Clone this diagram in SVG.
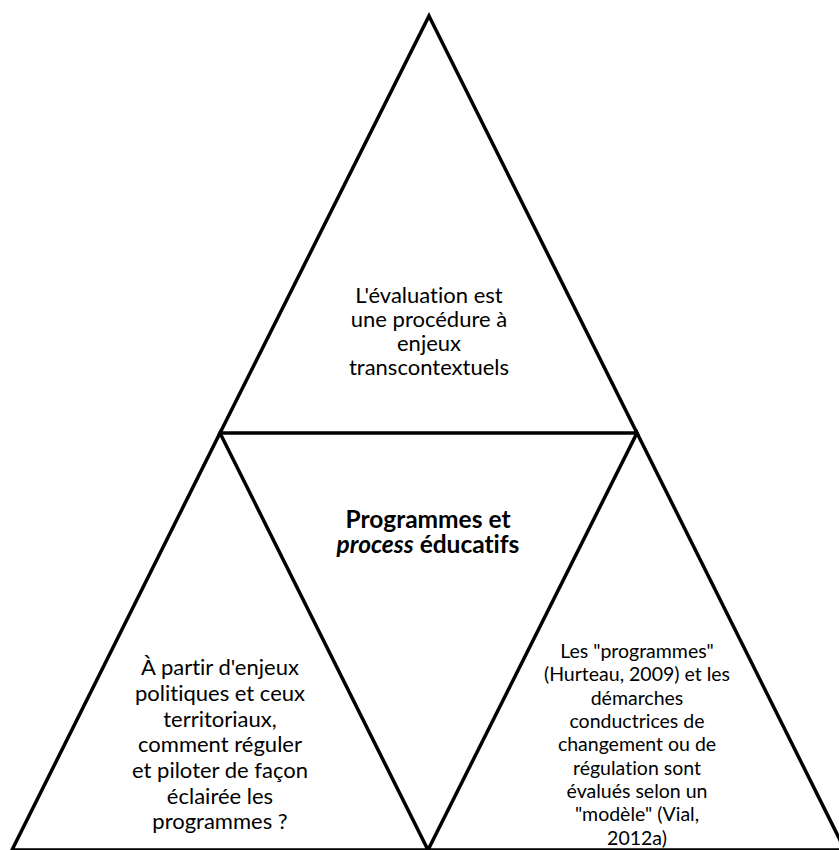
<svg xmlns="http://www.w3.org/2000/svg" width="839" height="850" viewBox="0 0 839 850">
<style>
.tri{fill:none;stroke:#000;stroke-width:3.5;stroke-linejoin:miter}
.t{font-family:Lato,"Liberation Sans",sans-serif;fill:#000;text-anchor:middle;font-variant-ligatures:no-common-ligatures}
.n{font-size:22px}
.s{font-size:19.5px}
.b{font-size:24.5px;font-weight:bold}
</style>
<rect width="839" height="850" fill="#fff"/>
<g id="connectors"/>
<g id="top">
<polygon class="tri" points="429,16 637,433 220,433"/>
<text class="t n" x="429" y="303">L'évaluation est</text>
<text class="t n" x="429" y="327">une procédure à</text>
<text class="t n" x="429" y="351">enjeux</text>
<text class="t n" x="429" y="375">transcontextuels</text>
</g>
<g id="center">
<text class="t b" x="428" y="528">Programmes et</text>
<text class="t b" x="428" y="553"><tspan font-style="italic">process</tspan> éducatifs</text>
</g>
<g id="left">
<polygon class="tri" points="220,433 428,850 12,850"/>
<text class="t n" x="220" y="675">À partir d'enjeux</text>
<text class="t n" x="220" y="701">politiques et ceux</text>
<text class="t n" x="220" y="727">territoriaux,</text>
<text class="t n" x="220" y="752">comment réguler</text>
<text class="t n" x="220" y="778">et piloter de façon</text>
<text class="t n" x="220" y="804">éclairée les</text>
<text class="t n" x="220" y="829">programmes ?</text>
</g>
<g id="right">
<polygon class="tri" points="637,433 845,850 428,850"/>
<text class="t s" x="637" y="658">Les "programmes"</text>
<text class="t s" x="637" y="681">(Hurteau, 2009) et les</text>
<text class="t s" x="637" y="705">démarches</text>
<text class="t s" x="637" y="728">conductrices de</text>
<text class="t s" x="637" y="751">changement ou de</text>
<text class="t s" x="637" y="775">régulation sont</text>
<text class="t s" x="637" y="798">évalués selon un</text>
<text class="t s" x="637" y="821">"modèle" (Vial,</text>
<text class="t s" x="637" y="845">2012a)</text>
</g>
</svg>
